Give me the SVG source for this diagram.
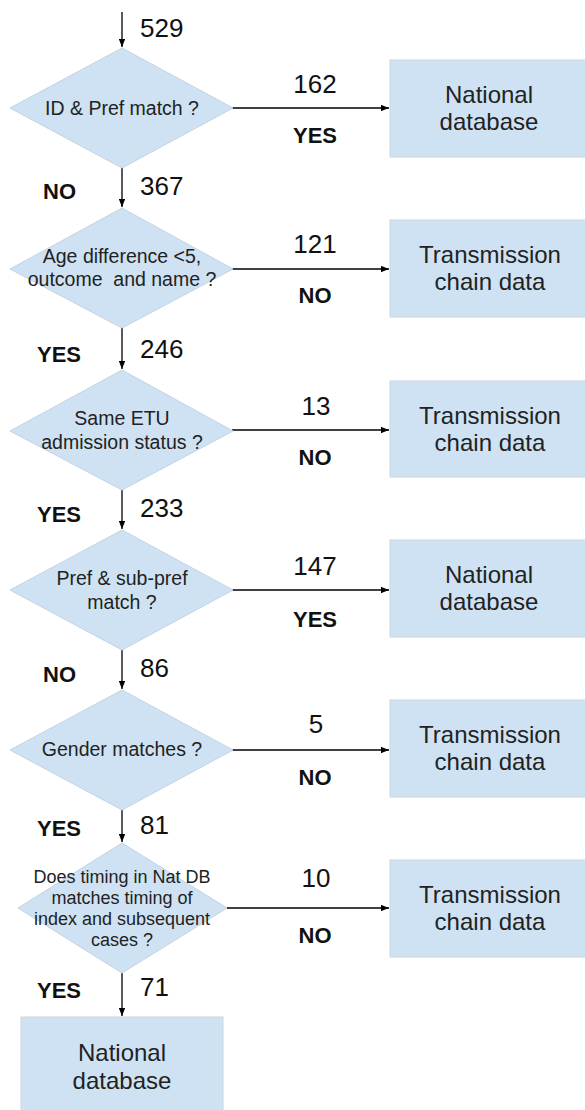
<svg xmlns="http://www.w3.org/2000/svg" width="585" height="1110" viewBox="0 0 585 1110">
<defs>
<marker id="ah" viewBox="0 0 10 8" refX="10" refY="4" markerWidth="8" markerHeight="6.4" markerUnits="userSpaceOnUse" orient="auto"><path d="M0,0 L10,4 L0,8 Z" fill="#000"/></marker>
<style>
.dia{fill:#cfe2f3;stroke:#c3d3e2;stroke-width:1}
.box{fill:#cfe2f3;stroke:#cdd6de;stroke-width:1}
.ln{stroke:#000;stroke-width:1.3;fill:none;marker-end:url(#ah)}
.dt{font-family:"Liberation Sans",Arial,sans-serif;font-size:19.5px;fill:#222;text-anchor:middle}
.dt6{font-family:"Liberation Sans",Arial,sans-serif;font-size:18px;fill:#222;text-anchor:middle}
.bt{font-family:"Liberation Sans",Arial,sans-serif;font-size:24px;fill:#222;text-anchor:middle}
.num{font-family:"Liberation Sans",Arial,sans-serif;font-size:26px;fill:#111}
.numc{font-family:"Liberation Sans",Arial,sans-serif;font-size:26px;fill:#111;text-anchor:middle}
.yn{font-family:"Liberation Sans",Arial,sans-serif;font-size:22px;font-weight:bold;fill:#111}
.ync{font-family:"Liberation Sans",Arial,sans-serif;font-size:22px;font-weight:bold;fill:#111;text-anchor:middle}
</style>
</defs>

<g id="connectors">
<line class="ln" x1="122" y1="12" x2="122" y2="47"/>
<line class="ln" x1="122" y1="168" x2="122" y2="207"/>
<line class="ln" x1="122" y1="328" x2="122" y2="369"/>
<line class="ln" x1="122" y1="490" x2="122" y2="529"/>
<line class="ln" x1="122" y1="650" x2="122" y2="689"/>
<line class="ln" x1="122" y1="810" x2="122" y2="842"/>
<line class="ln" x1="122" y1="973" x2="122" y2="1016"/>
<line class="ln" x1="232" y1="108" x2="389" y2="108"/>
<line class="ln" x1="232" y1="269" x2="389" y2="269"/>
<line class="ln" x1="232" y1="430" x2="389" y2="430"/>
<line class="ln" x1="232" y1="590" x2="389" y2="590"/>
<line class="ln" x1="232" y1="750" x2="389" y2="750"/>
<line class="ln" x1="227" y1="908" x2="389" y2="908"/>
<text class="num" x="140" y="37">529</text>
<text class="num" x="140" y="195">367</text>
<text class="num" x="140" y="358">246</text>
<text class="num" x="140" y="517">233</text>
<text class="num" x="140" y="677">86</text>
<text class="num" x="140" y="834">81</text>
<text class="num" x="140" y="996">71</text>
<text class="yn" x="43" y="199">NO</text>
<text class="yn" x="37" y="362">YES</text>
<text class="yn" x="37" y="522">YES</text>
<text class="yn" x="43" y="682">NO</text>
<text class="yn" x="37" y="836">YES</text>
<text class="yn" x="37" y="998">YES</text>
<text class="numc" x="315" y="93">162</text>
<text class="ync" x="315" y="143">YES</text>
<text class="numc" x="315" y="253">121</text>
<text class="ync" x="315" y="303">NO</text>
<text class="numc" x="316" y="415">13</text>
<text class="ync" x="315" y="465">NO</text>
<text class="numc" x="315" y="575">147</text>
<text class="ync" x="315" y="627">YES</text>
<text class="numc" x="316" y="733">5</text>
<text class="ync" x="315" y="785">NO</text>
<text class="numc" x="316" y="887">10</text>
<text class="ync" x="315" y="943">NO</text>
</g>

<g id="d1">
<polygon class="dia" points="122,48 233,108 122,168 10,108"/>
<text class="dt" x="122" y="115">ID &amp; Pref match ?</text>
</g>
<g id="d2">
<polygon class="dia" points="122,208 233,269 122,328 10,269"/>
<text class="dt" x="122" y="263">Age difference &lt;5,</text>
<text class="dt" x="122" y="286" xml:space="preserve">outcome  and name ?</text>
</g>
<g id="d3">
<polygon class="dia" points="122,370 233,431 122,490 10,431"/>
<text class="dt" x="122" y="425">Same ETU</text>
<text class="dt" x="122" y="449">admission status ?</text>
</g>
<g id="d4">
<polygon class="dia" points="122,530 233,590 122,650 10,590"/>
<text class="dt" x="122" y="585">Pref &amp; sub-pref</text>
<text class="dt" x="122" y="609">match ?</text>
</g>
<g id="d5">
<polygon class="dia" points="122,690 233,750 122,810 10,750"/>
<text class="dt" x="122" y="756">Gender matches ?</text>
</g>
<g id="d6">
<polygon class="dia" points="122,843 227,908 122,973 18,908"/>
<text class="dt6" x="122" y="883">Does timing in Nat DB</text>
<text class="dt6" x="122" y="904">matches timing of</text>
<text class="dt6" x="122" y="925">index and subsequent</text>
<text class="dt6" x="122" y="946">cases ?</text>
</g>

<g id="b1">
<rect class="box" x="390" y="60" width="200" height="97"/>
<text class="bt" x="489" y="103">National</text>
<text class="bt" x="489" y="130">database</text>
</g>
<g id="b2">
<rect class="box" x="390" y="220" width="200" height="97"/>
<text class="bt" x="490" y="263">Transmission</text>
<text class="bt" x="490" y="290">chain data</text>
</g>
<g id="b3">
<rect class="box" x="390" y="381" width="200" height="96"/>
<text class="bt" x="490" y="424">Transmission</text>
<text class="bt" x="490" y="451">chain data</text>
</g>
<g id="b4">
<rect class="box" x="390" y="540" width="200" height="97"/>
<text class="bt" x="489" y="583">National</text>
<text class="bt" x="489" y="610">database</text>
</g>
<g id="b5">
<rect class="box" x="390" y="700" width="200" height="97"/>
<text class="bt" x="490" y="743">Transmission</text>
<text class="bt" x="490" y="770">chain data</text>
</g>
<g id="b6">
<rect class="box" x="390" y="860" width="200" height="97"/>
<text class="bt" x="490" y="903">Transmission</text>
<text class="bt" x="490" y="930">chain data</text>
</g>
<g id="b7">
<rect class="box" x="21" y="1017" width="202" height="100"/>
<text class="bt" x="122" y="1061">National</text>
<text class="bt" x="122" y="1089">database</text>
</g>
</svg>
